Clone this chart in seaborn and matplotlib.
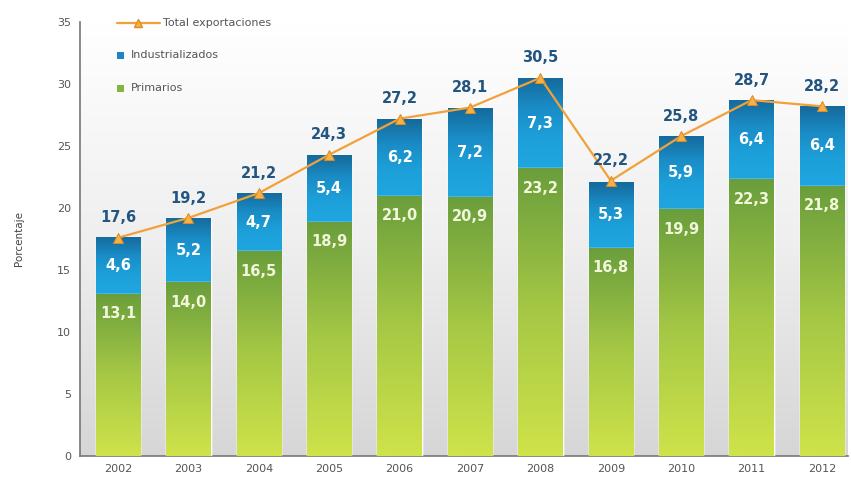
import numpy as np
import pandas as pd
import matplotlib
matplotlib.use("Agg")
import matplotlib.pyplot as plt
import seaborn as sns
from matplotlib.lines import Line2D
from matplotlib.patches import Rectangle
from matplotlib.colors import LinearSegmentedColormap

years = ["2002", "2003", "2004", "2005", "2006", "2007", "2008", "2009", "2010", "2011", "2012"]
primarios = [13.1, 14.0, 16.5, 18.9, 21.0, 20.9, 23.2, 16.8, 19.9, 22.3, 21.8]
industrializados = [4.6, 5.2, 4.7, 5.4, 6.2, 7.2, 7.3, 5.3, 5.9, 6.4, 6.4]
total = [17.6, 19.2, 21.2, 24.3, 27.2, 28.1, 30.5, 22.2, 25.8, 28.7, 28.2]
yticks = [0, 5, 10, 15, 20, 25, 30, 35]
legend_labels = ["Total exportaciones", "Industrializados", "Primarios"]

fmt = lambda v: f"{v:.1f}".replace(".", ",")

df = pd.DataFrame({"year": years, "prim": primarios, "ind": industrializados, "total": total})
df["stack"] = df["prim"] + df["ind"]

sns.set_style("white")
plt.rcParams["font.family"] = ["DejaVu Sans"]

W, H = 851, 483
fig = plt.figure(figsize=(W / 100, H / 100), dpi=100)
ax = fig.add_axes([80 / W, 27 / H, 768 / W, 434 / H])

# background vertical gradient
bg = LinearSegmentedColormap.from_list("bg", ["#d6d6d6", "#efefef", "#ffffff"])
ax.imshow(np.linspace(0, 1, 256).reshape(-1, 1), extent=[-0.54, 10.37, 0, 35], origin="lower",
          aspect="auto", cmap=bg, zorder=0)

blue = "#1e9fd8"
green = "#86b43c"
bw = 0.63
sns.barplot(data=df, x="year", y="stack", color=blue, width=bw, saturation=1, ax=ax, zorder=2)
n_blue = len(ax.patches)
sns.barplot(data=df, x="year", y="prim", color=green, width=bw, saturation=1, ax=ax, zorder=3)

cm_blue = LinearSegmentedColormap.from_list("b", ["#1fa6e0", "#1da0da", "#1a8cc6", "#15699a"])
cm_green = LinearSegmentedColormap.from_list("g", ["#cfe34a", "#a6c845", "#6a9e3c"])
for i, p in enumerate(ax.patches):
    x0, y0 = p.get_x(), p.get_y()
    w, h = p.get_width(), p.get_height()
    grad = np.linspace(0, 1, 256).reshape(-1, 1)
    if i < n_blue:
        im = ax.imshow(grad, extent=[x0, x0 + w, primarios[i], y0 + h], origin="lower",
                       aspect="auto", cmap=cm_blue, zorder=2.5)
    else:
        im = ax.imshow(grad, extent=[x0, x0 + w, 0, h], origin="lower", aspect="auto",
                       cmap=cm_green, zorder=3.5)
    im.set_clip_path(p)

xs = np.arange(len(years))
sns.lineplot(x=xs, y=total, ax=ax, color="#f2a13a", lw=1.6, marker="^", markersize=7,
             markerfacecolor="#f6b24a", markeredgecolor="#e08a20", zorder=5)

for i in range(len(years)):
    ax.text(xs[i], total[i] + 1.0, fmt(total[i]), ha="center", va="bottom", fontsize=10.5,
            color="#22557f", fontweight="bold", zorder=6)
    ax.text(xs[i], primarios[i] + industrializados[i] / 2, fmt(industrializados[i]), ha="center",
            va="center", fontsize=10.5, color="white", fontweight="bold", zorder=6)
    ax.text(xs[i], primarios[i] - 1.6, fmt(primarios[i]), ha="center", va="center",
            fontsize=10.5, color="#f2f7dc", fontweight="bold", zorder=6)

ax.set_xlim(-0.54, 10.37)
ax.set_ylim(0, 35)
ax.set_yticks(yticks)
ax.set_yticklabels([str(t) for t in yticks])
ax.set_xlabel("")
ax.set_ylabel("Porcentaje", fontsize=7.5, color="#444444", labelpad=24)
ax.tick_params(axis="both", labelsize=8, colors="#555555", length=3, direction="out")
ax.tick_params(axis="x", length=0, pad=6)
for s in ["top", "right"]:
    ax.spines[s].set_visible(False)
for s in ["left", "bottom"]:
    ax.spines[s].set_color("#777777")
    ax.spines[s].set_linewidth(1.2)

# manual legend (pixel positions converted to figure fraction)
fx = lambda px: px / W
fy = lambda py: 1 - py / H
fig.add_artist(Line2D([fx(117), fx(160)], [fy(23), fy(23)], color="#f2a13a", lw=1.6,
                      transform=fig.transFigure))
fig.add_artist(Line2D([fx(138)], [fy(23)], color="#f2a13a", marker="^", markersize=6,
                      markerfacecolor="#f6b24a", markeredgecolor="#e08a20",
                      transform=fig.transFigure))
fig.text(fx(163), fy(23), legend_labels[0], fontsize=8, color="#555555", va="center")
fig.add_artist(Rectangle((fx(117), fy(59)), 7 / W, 7 / H, facecolor="#1b86c0",
                         edgecolor="none", transform=fig.transFigure))
fig.text(fx(131), fy(55), legend_labels[1], fontsize=8, color="#555555", va="center")
fig.add_artist(Rectangle((fx(117), fy(92)), 7 / W, 7 / H, facecolor="#86b43c",
                         edgecolor="none", transform=fig.transFigure))
fig.text(fx(131), fy(88), legend_labels[2], fontsize=8, color="#555555", va="center")

fig.savefig("out.png", dpi=100)
